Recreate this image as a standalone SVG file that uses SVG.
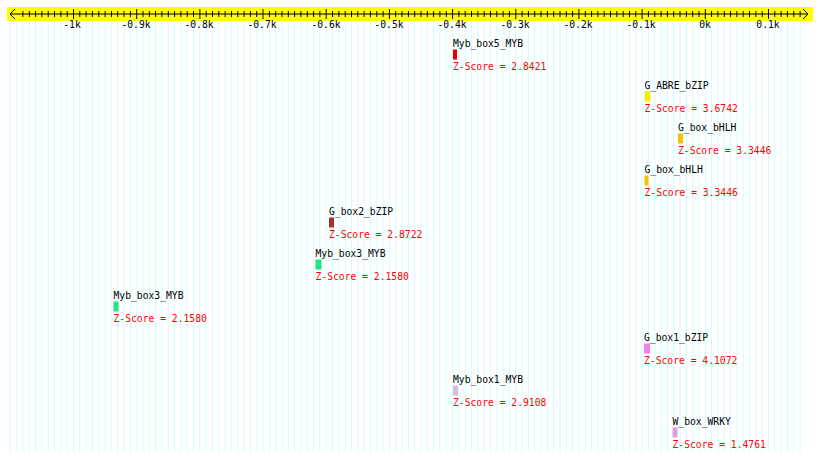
<svg xmlns="http://www.w3.org/2000/svg" width="820" height="461" viewBox="0 0 820 461">
<style>
text{font-family:"DejaVu Sans Mono","Liberation Mono",monospace;font-size:9.7px}
.lbl{fill:#000}
.z{fill:#ff0000}
.ax{fill:#000;text-anchor:middle}
.grid line{stroke:#ccffff;stroke-width:1}
.tk line{stroke:#000;stroke-width:1}
</style>
<rect width="820" height="461" fill="#fff"/>
<g class="grid" id="grid">
<line x1="10.3" y1="21" x2="10.3" y2="452"/><line x1="16.6" y1="21" x2="16.6" y2="452"/><line x1="22.9" y1="21" x2="22.9" y2="452"/><line x1="29.3" y1="21" x2="29.3" y2="452"/><line x1="35.6" y1="21" x2="35.6" y2="452"/><line x1="41.9" y1="21" x2="41.9" y2="452"/><line x1="48.2" y1="21" x2="48.2" y2="452"/><line x1="54.5" y1="21" x2="54.5" y2="452"/><line x1="60.9" y1="21" x2="60.9" y2="452"/><line x1="67.2" y1="21" x2="67.2" y2="452"/><line x1="73.5" y1="21" x2="73.5" y2="452"/><line x1="79.8" y1="21" x2="79.8" y2="452"/><line x1="86.1" y1="21" x2="86.1" y2="452"/><line x1="92.4" y1="21" x2="92.4" y2="452"/><line x1="98.8" y1="21" x2="98.8" y2="452"/><line x1="105.1" y1="21" x2="105.1" y2="452"/><line x1="111.4" y1="21" x2="111.4" y2="452"/><line x1="117.7" y1="21" x2="117.7" y2="452"/><line x1="124.0" y1="21" x2="124.0" y2="452"/><line x1="130.4" y1="21" x2="130.4" y2="452"/><line x1="136.7" y1="21" x2="136.7" y2="452"/><line x1="143.0" y1="21" x2="143.0" y2="452"/><line x1="149.3" y1="21" x2="149.3" y2="452"/><line x1="155.6" y1="21" x2="155.6" y2="452"/><line x1="161.9" y1="21" x2="161.9" y2="452"/><line x1="168.3" y1="21" x2="168.3" y2="452"/><line x1="174.6" y1="21" x2="174.6" y2="452"/><line x1="180.9" y1="21" x2="180.9" y2="452"/><line x1="187.2" y1="21" x2="187.2" y2="452"/><line x1="193.5" y1="21" x2="193.5" y2="452"/><line x1="199.9" y1="21" x2="199.9" y2="452"/><line x1="206.2" y1="21" x2="206.2" y2="452"/><line x1="212.5" y1="21" x2="212.5" y2="452"/><line x1="218.8" y1="21" x2="218.8" y2="452"/><line x1="225.1" y1="21" x2="225.1" y2="452"/><line x1="231.4" y1="21" x2="231.4" y2="452"/><line x1="237.8" y1="21" x2="237.8" y2="452"/><line x1="244.1" y1="21" x2="244.1" y2="452"/><line x1="250.4" y1="21" x2="250.4" y2="452"/><line x1="256.7" y1="21" x2="256.7" y2="452"/><line x1="263.0" y1="21" x2="263.0" y2="452"/><line x1="269.4" y1="21" x2="269.4" y2="452"/><line x1="275.7" y1="21" x2="275.7" y2="452"/><line x1="282.0" y1="21" x2="282.0" y2="452"/><line x1="288.3" y1="21" x2="288.3" y2="452"/><line x1="294.6" y1="21" x2="294.6" y2="452"/><line x1="300.9" y1="21" x2="300.9" y2="452"/><line x1="307.3" y1="21" x2="307.3" y2="452"/><line x1="313.6" y1="21" x2="313.6" y2="452"/><line x1="319.9" y1="21" x2="319.9" y2="452"/><line x1="326.2" y1="21" x2="326.2" y2="452"/><line x1="332.5" y1="21" x2="332.5" y2="452"/><line x1="338.9" y1="21" x2="338.9" y2="452"/><line x1="345.2" y1="21" x2="345.2" y2="452"/><line x1="351.5" y1="21" x2="351.5" y2="452"/><line x1="357.8" y1="21" x2="357.8" y2="452"/><line x1="364.1" y1="21" x2="364.1" y2="452"/><line x1="370.4" y1="21" x2="370.4" y2="452"/><line x1="376.8" y1="21" x2="376.8" y2="452"/><line x1="383.1" y1="21" x2="383.1" y2="452"/><line x1="389.4" y1="21" x2="389.4" y2="452"/><line x1="395.7" y1="21" x2="395.7" y2="452"/><line x1="402.0" y1="21" x2="402.0" y2="452"/><line x1="408.4" y1="21" x2="408.4" y2="452"/><line x1="414.7" y1="21" x2="414.7" y2="452"/><line x1="421.0" y1="21" x2="421.0" y2="452"/><line x1="427.3" y1="21" x2="427.3" y2="452"/><line x1="433.6" y1="21" x2="433.6" y2="452"/><line x1="439.9" y1="21" x2="439.9" y2="452"/><line x1="446.3" y1="21" x2="446.3" y2="452"/><line x1="452.6" y1="21" x2="452.6" y2="452"/><line x1="458.9" y1="21" x2="458.9" y2="452"/><line x1="465.2" y1="21" x2="465.2" y2="452"/><line x1="471.5" y1="21" x2="471.5" y2="452"/><line x1="477.9" y1="21" x2="477.9" y2="452"/><line x1="484.2" y1="21" x2="484.2" y2="452"/><line x1="490.5" y1="21" x2="490.5" y2="452"/><line x1="496.8" y1="21" x2="496.8" y2="452"/><line x1="503.1" y1="21" x2="503.1" y2="452"/><line x1="509.4" y1="21" x2="509.4" y2="452"/><line x1="515.8" y1="21" x2="515.8" y2="452"/><line x1="522.1" y1="21" x2="522.1" y2="452"/><line x1="528.4" y1="21" x2="528.4" y2="452"/><line x1="534.7" y1="21" x2="534.7" y2="452"/><line x1="541.0" y1="21" x2="541.0" y2="452"/><line x1="547.4" y1="21" x2="547.4" y2="452"/><line x1="553.7" y1="21" x2="553.7" y2="452"/><line x1="560.0" y1="21" x2="560.0" y2="452"/><line x1="566.3" y1="21" x2="566.3" y2="452"/><line x1="572.6" y1="21" x2="572.6" y2="452"/><line x1="578.9" y1="21" x2="578.9" y2="452"/><line x1="585.3" y1="21" x2="585.3" y2="452"/><line x1="591.6" y1="21" x2="591.6" y2="452"/><line x1="597.9" y1="21" x2="597.9" y2="452"/><line x1="604.2" y1="21" x2="604.2" y2="452"/><line x1="610.5" y1="21" x2="610.5" y2="452"/><line x1="616.9" y1="21" x2="616.9" y2="452"/><line x1="623.2" y1="21" x2="623.2" y2="452"/><line x1="629.5" y1="21" x2="629.5" y2="452"/><line x1="635.8" y1="21" x2="635.8" y2="452"/><line x1="642.1" y1="21" x2="642.1" y2="452"/><line x1="648.4" y1="21" x2="648.4" y2="452"/><line x1="654.8" y1="21" x2="654.8" y2="452"/><line x1="661.1" y1="21" x2="661.1" y2="452"/><line x1="667.4" y1="21" x2="667.4" y2="452"/><line x1="673.7" y1="21" x2="673.7" y2="452"/><line x1="680.0" y1="21" x2="680.0" y2="452"/><line x1="686.4" y1="21" x2="686.4" y2="452"/><line x1="692.7" y1="21" x2="692.7" y2="452"/><line x1="699.0" y1="21" x2="699.0" y2="452"/><line x1="705.3" y1="21" x2="705.3" y2="452"/><line x1="711.6" y1="21" x2="711.6" y2="452"/><line x1="717.9" y1="21" x2="717.9" y2="452"/><line x1="724.3" y1="21" x2="724.3" y2="452"/><line x1="730.6" y1="21" x2="730.6" y2="452"/><line x1="736.9" y1="21" x2="736.9" y2="452"/><line x1="743.2" y1="21" x2="743.2" y2="452"/><line x1="749.5" y1="21" x2="749.5" y2="452"/><line x1="755.9" y1="21" x2="755.9" y2="452"/><line x1="762.2" y1="21" x2="762.2" y2="452"/><line x1="768.5" y1="21" x2="768.5" y2="452"/><line x1="774.8" y1="21" x2="774.8" y2="452"/><line x1="781.1" y1="21" x2="781.1" y2="452"/><line x1="787.4" y1="21" x2="787.4" y2="452"/><line x1="793.8" y1="21" x2="793.8" y2="452"/><line x1="800.1" y1="21" x2="800.1" y2="452"/>
</g>
<g id="axis">
<rect x="7" y="7" width="806" height="14" fill="#ffff00"/>
<line x1="10" y1="14" x2="808" y2="14" stroke="#000" stroke-width="1"/>
<path d="M15,9 L10,14 L15,19 M803,9 L808,14 L803,19" fill="none" stroke="#000" stroke-width="1"/>
<g class="tk">
<line x1="22.9" y1="11" x2="22.9" y2="17"/><line x1="29.3" y1="11" x2="29.3" y2="17"/><line x1="35.6" y1="11" x2="35.6" y2="17"/><line x1="41.9" y1="11" x2="41.9" y2="17"/><line x1="48.2" y1="11" x2="48.2" y2="17"/><line x1="54.5" y1="11" x2="54.5" y2="17"/><line x1="60.9" y1="11" x2="60.9" y2="17"/><line x1="67.2" y1="11" x2="67.2" y2="17"/><line x1="73.5" y1="9" x2="73.5" y2="19"/><line x1="79.8" y1="11" x2="79.8" y2="17"/><line x1="86.1" y1="11" x2="86.1" y2="17"/><line x1="92.4" y1="11" x2="92.4" y2="17"/><line x1="98.8" y1="11" x2="98.8" y2="17"/><line x1="105.1" y1="11" x2="105.1" y2="17"/><line x1="111.4" y1="11" x2="111.4" y2="17"/><line x1="117.7" y1="11" x2="117.7" y2="17"/><line x1="124.0" y1="11" x2="124.0" y2="17"/><line x1="130.4" y1="11" x2="130.4" y2="17"/><line x1="136.7" y1="9" x2="136.7" y2="19"/><line x1="143.0" y1="11" x2="143.0" y2="17"/><line x1="149.3" y1="11" x2="149.3" y2="17"/><line x1="155.6" y1="11" x2="155.6" y2="17"/><line x1="161.9" y1="11" x2="161.9" y2="17"/><line x1="168.3" y1="11" x2="168.3" y2="17"/><line x1="174.6" y1="11" x2="174.6" y2="17"/><line x1="180.9" y1="11" x2="180.9" y2="17"/><line x1="187.2" y1="11" x2="187.2" y2="17"/><line x1="193.5" y1="11" x2="193.5" y2="17"/><line x1="199.9" y1="9" x2="199.9" y2="19"/><line x1="206.2" y1="11" x2="206.2" y2="17"/><line x1="212.5" y1="11" x2="212.5" y2="17"/><line x1="218.8" y1="11" x2="218.8" y2="17"/><line x1="225.1" y1="11" x2="225.1" y2="17"/><line x1="231.4" y1="11" x2="231.4" y2="17"/><line x1="237.8" y1="11" x2="237.8" y2="17"/><line x1="244.1" y1="11" x2="244.1" y2="17"/><line x1="250.4" y1="11" x2="250.4" y2="17"/><line x1="256.7" y1="11" x2="256.7" y2="17"/><line x1="263.0" y1="9" x2="263.0" y2="19"/><line x1="269.4" y1="11" x2="269.4" y2="17"/><line x1="275.7" y1="11" x2="275.7" y2="17"/><line x1="282.0" y1="11" x2="282.0" y2="17"/><line x1="288.3" y1="11" x2="288.3" y2="17"/><line x1="294.6" y1="11" x2="294.6" y2="17"/><line x1="300.9" y1="11" x2="300.9" y2="17"/><line x1="307.3" y1="11" x2="307.3" y2="17"/><line x1="313.6" y1="11" x2="313.6" y2="17"/><line x1="319.9" y1="11" x2="319.9" y2="17"/><line x1="326.2" y1="9" x2="326.2" y2="19"/><line x1="332.5" y1="11" x2="332.5" y2="17"/><line x1="338.9" y1="11" x2="338.9" y2="17"/><line x1="345.2" y1="11" x2="345.2" y2="17"/><line x1="351.5" y1="11" x2="351.5" y2="17"/><line x1="357.8" y1="11" x2="357.8" y2="17"/><line x1="364.1" y1="11" x2="364.1" y2="17"/><line x1="370.4" y1="11" x2="370.4" y2="17"/><line x1="376.8" y1="11" x2="376.8" y2="17"/><line x1="383.1" y1="11" x2="383.1" y2="17"/><line x1="389.4" y1="9" x2="389.4" y2="19"/><line x1="395.7" y1="11" x2="395.7" y2="17"/><line x1="402.0" y1="11" x2="402.0" y2="17"/><line x1="408.4" y1="11" x2="408.4" y2="17"/><line x1="414.7" y1="11" x2="414.7" y2="17"/><line x1="421.0" y1="11" x2="421.0" y2="17"/><line x1="427.3" y1="11" x2="427.3" y2="17"/><line x1="433.6" y1="11" x2="433.6" y2="17"/><line x1="439.9" y1="11" x2="439.9" y2="17"/><line x1="446.3" y1="11" x2="446.3" y2="17"/><line x1="452.6" y1="9" x2="452.6" y2="19"/><line x1="458.9" y1="11" x2="458.9" y2="17"/><line x1="465.2" y1="11" x2="465.2" y2="17"/><line x1="471.5" y1="11" x2="471.5" y2="17"/><line x1="477.9" y1="11" x2="477.9" y2="17"/><line x1="484.2" y1="11" x2="484.2" y2="17"/><line x1="490.5" y1="11" x2="490.5" y2="17"/><line x1="496.8" y1="11" x2="496.8" y2="17"/><line x1="503.1" y1="11" x2="503.1" y2="17"/><line x1="509.4" y1="11" x2="509.4" y2="17"/><line x1="515.8" y1="9" x2="515.8" y2="19"/><line x1="522.1" y1="11" x2="522.1" y2="17"/><line x1="528.4" y1="11" x2="528.4" y2="17"/><line x1="534.7" y1="11" x2="534.7" y2="17"/><line x1="541.0" y1="11" x2="541.0" y2="17"/><line x1="547.4" y1="11" x2="547.4" y2="17"/><line x1="553.7" y1="11" x2="553.7" y2="17"/><line x1="560.0" y1="11" x2="560.0" y2="17"/><line x1="566.3" y1="11" x2="566.3" y2="17"/><line x1="572.6" y1="11" x2="572.6" y2="17"/><line x1="578.9" y1="9" x2="578.9" y2="19"/><line x1="585.3" y1="11" x2="585.3" y2="17"/><line x1="591.6" y1="11" x2="591.6" y2="17"/><line x1="597.9" y1="11" x2="597.9" y2="17"/><line x1="604.2" y1="11" x2="604.2" y2="17"/><line x1="610.5" y1="11" x2="610.5" y2="17"/><line x1="616.9" y1="11" x2="616.9" y2="17"/><line x1="623.2" y1="11" x2="623.2" y2="17"/><line x1="629.5" y1="11" x2="629.5" y2="17"/><line x1="635.8" y1="11" x2="635.8" y2="17"/><line x1="642.1" y1="9" x2="642.1" y2="19"/><line x1="648.4" y1="11" x2="648.4" y2="17"/><line x1="654.8" y1="11" x2="654.8" y2="17"/><line x1="661.1" y1="11" x2="661.1" y2="17"/><line x1="667.4" y1="11" x2="667.4" y2="17"/><line x1="673.7" y1="11" x2="673.7" y2="17"/><line x1="680.0" y1="11" x2="680.0" y2="17"/><line x1="686.4" y1="11" x2="686.4" y2="17"/><line x1="692.7" y1="11" x2="692.7" y2="17"/><line x1="699.0" y1="11" x2="699.0" y2="17"/><line x1="705.3" y1="9" x2="705.3" y2="19"/><line x1="711.6" y1="11" x2="711.6" y2="17"/><line x1="717.9" y1="11" x2="717.9" y2="17"/><line x1="724.3" y1="11" x2="724.3" y2="17"/><line x1="730.6" y1="11" x2="730.6" y2="17"/><line x1="736.9" y1="11" x2="736.9" y2="17"/><line x1="743.2" y1="11" x2="743.2" y2="17"/><line x1="749.5" y1="11" x2="749.5" y2="17"/><line x1="755.9" y1="11" x2="755.9" y2="17"/><line x1="762.2" y1="11" x2="762.2" y2="17"/><line x1="768.5" y1="9" x2="768.5" y2="19"/><line x1="774.8" y1="11" x2="774.8" y2="17"/><line x1="781.1" y1="11" x2="781.1" y2="17"/><line x1="787.4" y1="11" x2="787.4" y2="17"/><line x1="793.8" y1="11" x2="793.8" y2="17"/><line x1="800.1" y1="11" x2="800.1" y2="17"/>
</g>
<text class="ax" x="72" y="28">-1k</text>
<text class="ax" x="136" y="28">-0.9k</text>
<text class="ax" x="199" y="28">-0.8k</text>
<text class="ax" x="262" y="28">-0.7k</text>
<text class="ax" x="326" y="28">-0.6k</text>
<text class="ax" x="389" y="28">-0.5k</text>
<text class="ax" x="452" y="28">-0.4k</text>
<text class="ax" x="515" y="28">-0.3k</text>
<text class="ax" x="578" y="28">-0.2k</text>
<text class="ax" x="641" y="28">-0.1k</text>
<text class="ax" x="705" y="28">0k</text>
<text class="ax" x="768" y="28">0.1k</text>
</g>
<g id="connectors"/>
<g id="n1"><text class="lbl" x="453" y="47">Myb_box5_MYB</text><rect x="453" y="49.5" width="4" height="10" fill="#e00000"/><text class="z" x="453" y="69.5">Z-Score = 2.8421</text></g>
<g id="n2"><text class="lbl" x="644.5" y="89">G_ABRE_bZIP</text><rect x="644.5" y="91.5" width="6" height="10" fill="#f5f000"/><text class="z" x="644.5" y="111.5">Z-Score = 3.6742</text></g>
<g id="n3"><text class="lbl" x="678" y="131">G_box_bHLH</text><rect x="678" y="133.5" width="5" height="10" fill="#f5c400"/><text class="z" x="678" y="153.5">Z-Score = 3.3446</text></g>
<g id="n4"><text class="lbl" x="644.5" y="173">G_box_bHLH</text><rect x="644.5" y="175.5" width="4" height="10" fill="#f5c400"/><text class="z" x="644.5" y="195.5">Z-Score = 3.3446</text></g>
<g id="n5"><text class="lbl" x="329" y="215">G_box2_bZIP</text><rect x="329" y="217.5" width="5" height="10" fill="#a03232"/><text class="z" x="329" y="237.5">Z-Score = 2.8722</text></g>
<g id="n6"><text class="lbl" x="315.5" y="257">Myb_box3_MYB</text><rect x="315.5" y="259.5" width="6" height="10" fill="#1ee87e"/><text class="z" x="315.5" y="279.5">Z-Score = 2.1580</text></g>
<g id="n7"><text class="lbl" x="113.5" y="299">Myb_box3_MYB</text><rect x="113.5" y="301.5" width="5" height="10" fill="#1ee87e"/><text class="z" x="113.5" y="321.5">Z-Score = 2.1580</text></g>
<g id="n8"><text class="lbl" x="644" y="341">G_box1_bZIP</text><rect x="644" y="343.5" width="6" height="10" fill="#ee82ee"/><text class="z" x="644" y="363.5">Z-Score = 4.1072</text></g>
<g id="n9"><text class="lbl" x="453" y="383">Myb_box1_MYB</text><rect x="453" y="385.5" width="5" height="10" fill="#d8bcd8"/><text class="z" x="453" y="405.5">Z-Score = 2.9108</text></g>
<g id="n10"><text class="lbl" x="672.5" y="425">W_box_WRKY</text><rect x="672.5" y="427.5" width="5" height="10" fill="#dda0dd"/><text class="z" x="672.5" y="447.5">Z-Score = 1.4761</text></g>
</svg>
